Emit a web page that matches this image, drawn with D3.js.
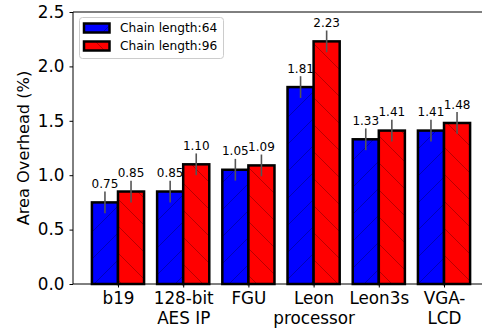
<!DOCTYPE html>
<html>
<head>
<meta charset="utf-8">
<script src="https://cdn.jsdelivr.net/npm/d3@7"></script>
<style>
  body { margin: 0; background: #fff; }
  text { font-family: "DejaVu Sans", sans-serif; }
</style>
</head>
<body>
<div id="chart"></div>
<script>
const categories = ["b19", "128-bit\nAES IP", "FGU", "Leon\nprocessor", "Leon3s", "VGA-\nLCD"];
const chain64 = [0.75, 0.85, 1.05, 1.81, 1.33, 1.41];
const chain96 = [0.85, 1.10, 1.09, 2.23, 1.41, 1.48];
const err64 = [0.1, 0.1, 0.1, 0.1, 0.1, 0.1];
const err96 = [0.1, 0.1, 0.1, 0.1, 0.1, 0.1];
const yTicks = [0, 0.5, 1.0, 1.5, 2.0, 2.5];

const width = 482, height = 329;
const svg = d3.select("#chart").append("svg")
  .attr("width", width)
  .attr("height", height);

// hatch patterns
const defs = svg.append("defs");
function hatch(id, fill, dir) {
  const p = defs.append("pattern")
    .attr("id", id)
    .attr("patternUnits", "userSpaceOnUse")
    .attr("width", 27).attr("height", 27);
  p.append("rect").attr("width", 27).attr("height", 27).attr("fill", fill);
  const d = dir === "/" ? "M-2,29 L29,-2 M-2,2 L2,-2 M25,29 L29,25"
                        : "M-2,-2 L29,29 M25,-2 L29,2 M-2,25 L2,29";
  p.append("path").attr("d", d)
    .attr("stroke", "#000").attr("stroke-opacity", 0.3).attr("stroke-width", 0.9);
}
hatch("h64", "#0000ff", "/");
hatch("h96", "#ff0000", "\\");

const x = d3.scaleLinear().domain([-0.69, 5.69]).range([73, 489]);
const y = d3.scaleLinear().domain([0, 2.5]).range([284, 12]);
const bw = 0.4;

// top spine
svg.append("line").attr("x1", 73).attr("x2", 489).attr("y1", 12).attr("y2", 12)
  .attr("stroke", "#000").attr("stroke-width", 1);

const series = [
  { vals: chain64, errs: err64, off: -bw / 2, fill: "url(#h64)" },
  { vals: chain96, errs: err96, off: bw / 2, fill: "url(#h96)" }
];

series.forEach(s => {
  svg.append("g").selectAll("rect")
    .data(s.vals)
    .enter().append("rect")
    .attr("x", (d, i) => x(i + s.off - bw / 2))
    .attr("width", x(bw) - x(0))
    .attr("y", d => y(d))
    .attr("height", d => y(0) - y(d))
    .attr("fill", s.fill)
    .attr("stroke", "#000")
    .attr("stroke-width", 2.5);
});

series.forEach(s => {
  svg.append("g").selectAll("line")
    .data(s.vals)
    .enter().append("line")
    .attr("x1", (d, i) => x(i + s.off))
    .attr("x2", (d, i) => x(i + s.off))
    .attr("y1", (d, i) => y(d - s.errs[i]))
    .attr("y2", (d, i) => y(d + s.errs[i]))
    .attr("stroke", "#555")
    .attr("stroke-width", 1.6);

  svg.append("g").selectAll("text")
    .data(s.vals)
    .enter().append("text")
    .attr("x", (d, i) => x(i + s.off))
    .attr("y", (d, i) => y(d + s.errs[i]) - 3.5)
    .attr("text-anchor", "middle")
    .attr("font-size", 12)
    .attr("fill", "#000")
    .text(d => d.toFixed(2));
});

// y axis
const yAxis = svg.append("g")
  .attr("transform", "translate(73,0)")
  .call(d3.axisLeft(y).tickValues(yTicks).tickFormat(d3.format(".1f")).tickSize(3.5).tickPadding(5));
yAxis.select(".domain").attr("stroke", "#000").attr("d", "M0,12V284");
yAxis.selectAll("text").attr("font-size", 16.8).attr("font-family", "DejaVu Sans").attr("fill", "#000");

// x axis
const xAxis = svg.append("g")
  .attr("transform", "translate(0,284)")
  .call(d3.axisBottom(x).tickValues(d3.range(categories.length)).tickSize(3.5).tickFormat(""));
xAxis.select(".domain").attr("stroke", "#000").attr("d", "M73,0H489");

xAxis.selectAll(".tick").each(function (d) {
  const lines = categories[d].split("\n");
  const t = d3.select(this).append("text")
    .attr("fill", "#000")
    .attr("font-size", 16.8)
    .attr("font-family", "DejaVu Sans")
    .attr("text-anchor", "middle");
  lines.forEach((l, k) => {
    t.append("tspan").attr("x", 0).attr("y", 19.5 + k * 20).text(l);
  });
});

// y label
svg.append("text")
  .attr("transform", "translate(28.5,148) rotate(-90)")
  .attr("text-anchor", "middle")
  .attr("font-size", 16.2)
  .text("Area Overhead (%)");

// legend
const leg = svg.append("g");
leg.append("rect")
  .attr("x", 79.5).attr("y", 17.5).attr("width", 144).attr("height", 41)
  .attr("rx", 3)
  .attr("fill", "#fff").attr("fill-opacity", 0.8)
  .attr("stroke", "#ccc").attr("stroke-width", 1);
const legItems = [
  { label: "Chain length:64", fill: "url(#h64)" },
  { label: "Chain length:96", fill: "url(#h96)" }
];
legItems.forEach((it, k) => {
  leg.append("rect")
    .attr("x", 84).attr("y", 23.5 + k * 18)
    .attr("width", 25.5).attr("height", 9)
    .attr("fill", it.fill)
    .attr("stroke", "#000").attr("stroke-width", 2.5);
  leg.append("text")
    .attr("x", 120).attr("y", 32 + k * 18)
    .attr("font-size", 12.2)
    .text(it.label);
});
</script>
</body>
</html>
